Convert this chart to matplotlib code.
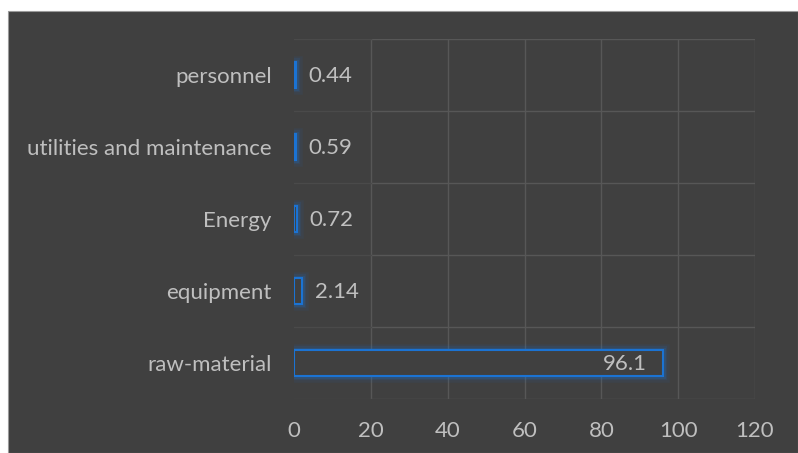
import matplotlib.pyplot as plt
import matplotlib.patheffects as pe
from matplotlib.patches import Rectangle

categories = ["raw-material", "equipment", "Energy", "utilities and maintenance", "personnel"]
values = [96.1, 2.14, 0.72, 0.59, 0.44]
xticks = [0, 20, 40, 60, 80, 100, 120]

plt.rcParams['font.family'] = ['Lato', 'DejaVu Sans']

bg = '#404040'
txt = '#bfbfbf'
blue = '#1b73d3'
fs = 16

fig = plt.figure(figsize=(7.98, 4.53), dpi=100, facecolor='white')
# dark chart area with a thin white margin at top/left
fig.patches.append(Rectangle((8 / 798, 0), 1 - 8 / 798, 1 - 11 / 453,
                             transform=fig.transFigure, facecolor=bg,
                             edgecolor='#9a9a9a', linewidth=0.8, zorder=-10))

ax = fig.add_axes([294 / 798, 54 / 453, (755 - 294) / 798, 360 / 453])
ax.set_facecolor('none')

glow = [pe.Stroke(linewidth=9, foreground=blue, alpha=0.08),
        pe.Stroke(linewidth=6, foreground=blue, alpha=0.12),
        pe.Stroke(linewidth=3.5, foreground=blue, alpha=0.2),
        pe.Normal()]

ypos = range(len(categories))
bars = ax.barh(ypos, values, height=0.37, color=bg, edgecolor=blue,
               linewidth=1.5, zorder=3)
for b in bars:
    b.set_path_effects(glow)

for y, v in zip(ypos, values):
    if v > 50:
        ax.annotate(f"{v:g}", (v, y), xytext=(-12, -1), textcoords='offset points',
                    ha='right', va='center', color=txt, fontsize=fs, zorder=4)
    else:
        ax.annotate(f"{v:g}", (v, y), xytext=(9, -1), textcoords='offset points',
                    ha='left', va='center', color=txt, fontsize=fs, zorder=4)

ax.set_xlim(0, 120)
ax.set_ylim(-0.5, len(categories) - 0.5)
ax.set_xticks(xticks)
ax.set_yticks(list(ypos))
ax.set_yticklabels(categories)

# gridlines: vertical at ticks, horizontal between categories
for x in xticks[1:]:
    ax.axvline(x, color='#575757', linewidth=1, zorder=1)
for y in [i - 0.5 for i in range(len(categories) + 1)]:
    ax.axhline(y, xmin=1 / 6, color='#575757', linewidth=1, zorder=1)
    ax.axhline(y, xmax=1 / 6, color='#4a4a4a', linewidth=1, zorder=1)

for s in ax.spines.values():
    s.set_visible(False)
ax.tick_params(length=0, colors=txt, labelsize=fs)
ax.tick_params(axis='x', pad=16)
ax.tick_params(axis='y', pad=16)

fig.savefig('out.png', dpi=100, facecolor='white')
